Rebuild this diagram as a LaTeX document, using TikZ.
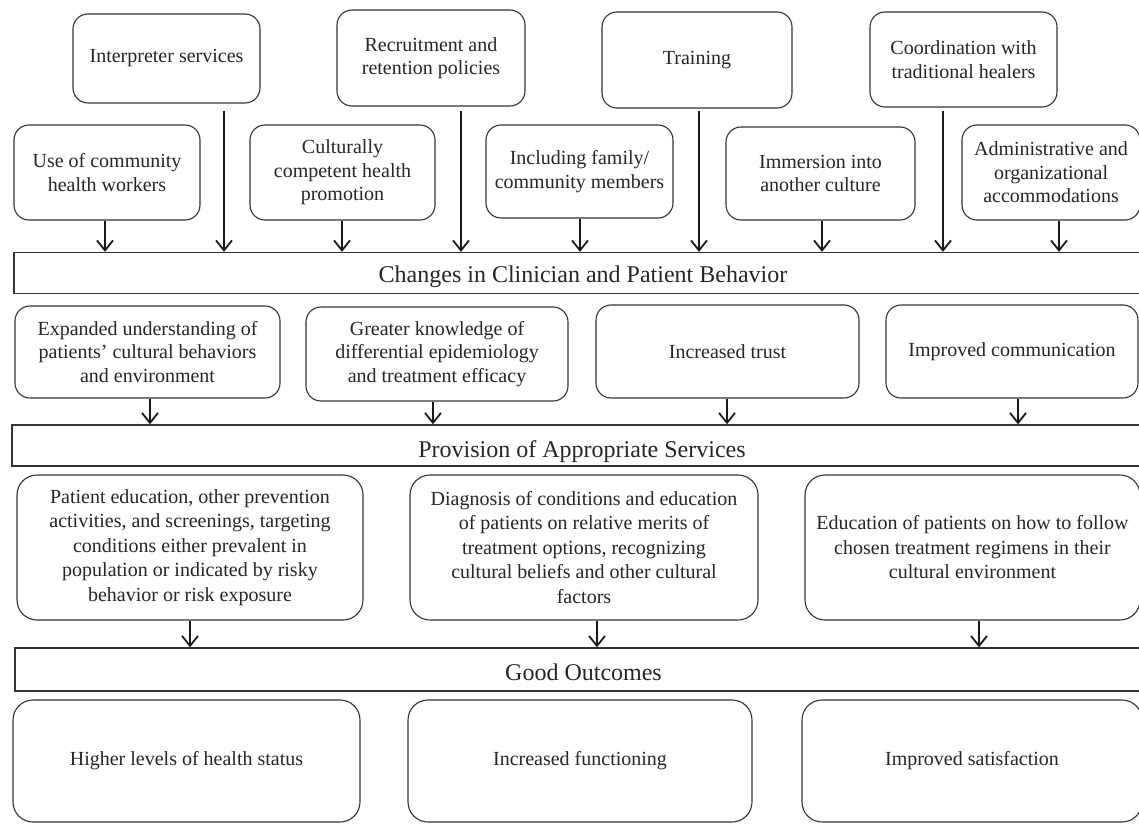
\documentclass[tikz,border=0pt]{standalone}
\usepackage{fontspec}
\setmainfont{Liberation Serif}
\usetikzlibrary{arrows.meta}
\begin{document}
\begin{tikzpicture}[x=1pt,y=-1pt,
  box/.style={draw=black!80, line width=1.1pt, rounded corners=15pt, align=center,
    text=black!85, font=\fontsize{20}{23.5}\selectfont, inner sep=2pt},
  bigbox/.style={box, rounded corners=20pt, font=\fontsize{20}{24.5}\selectfont},
  band/.style={draw=black!80, line width=1.3pt, text=black!85, font=\fontsize{24}{28}\selectfont, inner sep=0pt, text depth=0pt},
  arr/.style={draw=black!90, line width=1.4pt, -{Straight Barb[length=10pt,width=16pt,line width=1.8pt]}}
]
\useasboundingbox (0,0) rectangle (1139,824);
\clip (0,0) rectangle (1139,824);
\fill[white] (0,0) rectangle (1139,824);

% Row 1
\node[box, minimum width=187pt, minimum height=89pt] (interp) at (166.5,58.5) {Interpreter services};
\node[box, minimum width=188pt, minimum height=96pt] (recruit) at (431,58) {Recruitment and\\retention policies};
\node[box, minimum width=190pt, minimum height=96pt] (training) at (697,60) {Training};
\node[box, minimum width=187pt, minimum height=95pt] (coord) at (963.5,59.5) {Coordination with\\traditional healers};

% Row 2
\node[box, minimum width=186pt, minimum height=95pt] (usecomm) at (107,172.5) {Use of community\\health workers};
\node[box, minimum width=185pt, minimum height=95pt] (cultur) at (342.5,172.5) {Culturally\\competent health\\promotion};
\node[box, minimum width=187pt, minimum height=93pt] (includ) at (579.5,171.5) {Including family/\\community members};
\node[box, minimum width=189pt, minimum height=93pt] (immers) at (820.5,173.5) {Immersion into\\another culture};
\node[box, minimum width=178pt, minimum height=95pt] (admin) at (1051,172.5) {Administrative and\\organizational\\accommodations};

% Band 1
\node[band, text height=18pt, minimum width=1138pt, minimum height=41pt] (band1) at (583,273) {Changes in Clinician and Patient Behavior};

% x positions of connectors
\coordinate (a1) at (105,0);
\coordinate (a2) at (224,0);
\coordinate (a3) at (342,0);
\coordinate (a4) at (461,0);
\coordinate (a5) at (580,0);
\coordinate (a6) at (699,0);
\coordinate (a7) at (822,0);
\coordinate (a8) at (943,0);
\coordinate (a9) at (1059,0);

\draw[arr] (usecomm.south -| a1) -- (band1.north -| a1);
\draw[arr] (interp.south -| a2) ++(0,7) -- (band1.north -| a2);
\draw[arr] (cultur.south -| a3) -- (band1.north -| a3);
\draw[arr] (recruit.south -| a4) ++(0,4) -- (band1.north -| a4);
\draw[arr] (includ.south -| a5) -- (band1.north -| a5);
\draw[arr] (training.south -| a6) ++(0,2) -- (band1.north -| a6);
\draw[arr] (immers.south -| a7) -- (band1.north -| a7);
\draw[arr] (coord.south -| a8) ++(0,3) -- (band1.north -| a8);
\draw[arr] (admin.south -| a9) -- (band1.north -| a9);

% Row 3
\node[box, minimum width=265pt, minimum height=92pt] (expand) at (147.5,352) {Expanded understanding of\\patients’ cultural behaviors\\and environment};
\node[box, minimum width=262pt, minimum height=94pt] (greater) at (437,354) {Greater knowledge of\\differential epidemiology\\and treatment efficacy};
\node[box, minimum width=263pt, minimum height=93pt] (trust) at (727.5,351.5) {Increased trust};
\node[box, minimum width=252pt, minimum height=93pt] (comm) at (1012,351.5) {Improved communication};

% Band 2
\node[band, text height=23pt, minimum width=1140pt, minimum height=41pt] (band2) at (582,445.5) {Provision of Appropriate Services};

\coordinate (b1) at (150,0);
\coordinate (b2) at (433,0);
\coordinate (b3) at (727,0);
\coordinate (b4) at (1018,0);
\draw[arr] (expand.south -| b1) -- (band2.north -| b1);
\draw[arr] (greater.south -| b2) -- (band2.north -| b2);
\draw[arr] (trust.south -| b3) -- (band2.north -| b3);
\draw[arr] (comm.south -| b4) -- (band2.north -| b4);

% Row 4
\node[bigbox, minimum width=346pt, minimum height=145pt] (pated) at (190,547.5) {Patient education, other prevention\\activities, and screenings, targeting\\conditions either prevalent in\\population or indicated by risky\\behavior or risk exposure};
\node[bigbox, minimum width=348pt, minimum height=145pt] (diag) at (584,547.5) {Diagnosis of conditions and education\\of patients on relative merits of\\treatment options, recognizing\\cultural beliefs and other cultural\\factors};
\node[bigbox, minimum width=335pt, minimum height=145pt] (educ) at (972.5,547.5) {Education of patients on how to follow\\chosen treatment regimens in their\\cultural environment};

% Band 3
\node[band, text height=21pt, minimum width=1137pt, minimum height=43pt] (band3) at (583.5,669.5) {Good Outcomes};

\coordinate (c1) at (190,0);
\coordinate (c2) at (597,0);
\coordinate (c3) at (979,0);
\draw[arr] (pated.south -| c1) -- (band3.north -| c1);
\draw[arr] (diag.south -| c2) -- (band3.north -| c2);
\draw[arr] (educ.south -| c3) -- (band3.north -| c3);

% Row 5
\node[bigbox, minimum width=347pt, minimum height=122pt] (health) at (186.5,761) {Higher levels of health status};
\node[bigbox, minimum width=344pt, minimum height=122pt] (func) at (580,761) {Increased functioning};
\node[bigbox, minimum width=340pt, minimum height=122pt] (satis) at (972,761) {Improved satisfaction};
\end{tikzpicture}
\end{document}
